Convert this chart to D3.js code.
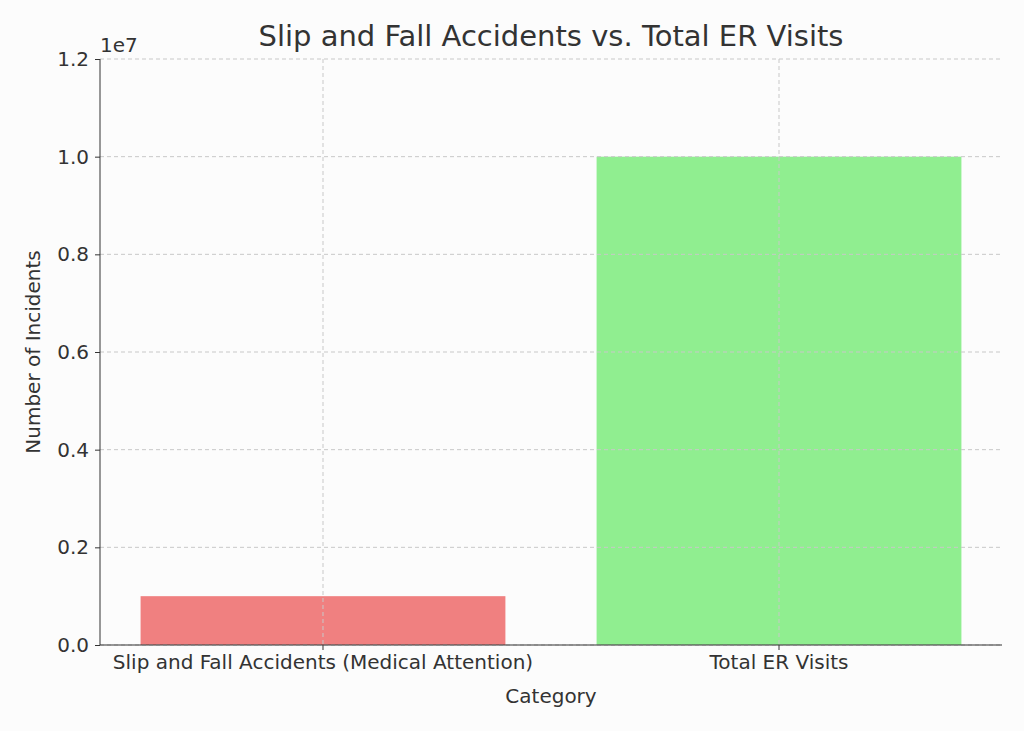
<!DOCTYPE html>
<html><head><meta charset="utf-8">
<script src="https://cdn.jsdelivr.net/npm/d3@7"></script>
<style>body{margin:0;background:#fcfcfc}text{font-family:"DejaVu Sans",sans-serif;fill:#333}</style>
</head><body>
<svg id="chart" width="1024" height="731"></svg>
<script>
var categories = ["Slip and Fall Accidents (Medical Attention)", "Total ER Visits"],
    values = [1000000, 10000000],
    colors = ["#f08080", "#90ee90"],
    yTicks = [0, 2e6, 4e6, 6e6, 8e6, 10e6, 12e6];

var svg = d3.select("#chart"),
    m = {left: 100, right: 1002, top: 59, bottom: 645};

var x = d3.scaleBand().domain(categories).range([m.left, m.right])
    .paddingInner(0.2).paddingOuter(0.089);
var y = d3.scaleLinear().domain([0, 1.2e7]).range([m.bottom, m.top]);

svg.append("rect").attr("width", 1024).attr("height", 731).attr("fill", "#fcfcfc");

// bars
svg.append("g").selectAll("rect").data(values).enter().append("rect")
    .attr("x", function(d, i) { return x(categories[i]); })
    .attr("width", x.bandwidth())
    .attr("y", y).attr("height", function(d) { return m.bottom - y(d); })
    .attr("fill", function(d, i) { return colors[i]; });

// grid
svg.append("g").selectAll("line").data(yTicks).enter().append("line")
    .attr("x1", m.left).attr("x2", m.right)
    .attr("y1", y).attr("y2", y)
    .attr("stroke", "#c8c8c8").attr("stroke-dasharray", "4,3");
svg.append("g").selectAll("line").data(categories).enter().append("line")
    .attr("x1", function(d) { return x(d) + x.bandwidth() / 2; })
    .attr("x2", function(d) { return x(d) + x.bandwidth() / 2; })
    .attr("y1", m.top).attr("y2", m.bottom)
    .attr("stroke", "#c8c8c8").attr("stroke-dasharray", "4,3");

// axes
var yAxis = svg.append("g").attr("transform", "translate(" + m.left + ",0)")
    .call(d3.axisLeft(y).tickValues(yTicks).tickFormat(function(d) { return (d / 1e7).toFixed(1); }).tickSize(5).tickPadding(6));
var xAxis = svg.append("g").attr("transform", "translate(0," + m.bottom + ")")
    .call(d3.axisBottom(x).tickSize(5).tickPadding(5));
[xAxis, yAxis].forEach(function(a) {
  a.attr("font-size", null).attr("font-family", null);
  a.selectAll("text").style("font-size", "20px").attr("fill", "#333");
  a.selectAll("line").attr("stroke", "#333");
  a.select(".domain").attr("stroke", "#333");
});
yAxis.select(".domain").attr("d", "M0," + m.top + "V" + m.bottom);
xAxis.select(".domain").attr("d", "M" + m.left + ",0H" + m.right);

svg.append("text").attr("x", 100).attr("y", 52).style("font-size", "20px").text("1e7");
svg.append("text").attr("x", 551).attr("y", 46).attr("text-anchor", "middle")
    .style("font-size", "29px").text("Slip and Fall Accidents vs. Total ER Visits");
svg.append("text").attr("x", 551).attr("y", 703).attr("text-anchor", "middle")
    .style("font-size", "20px").text("Category");
svg.append("text").attr("transform", "translate(40,352)rotate(-90)").attr("text-anchor", "middle")
    .style("font-size", "20px").text("Number of Incidents");
</script>
</body></html>
